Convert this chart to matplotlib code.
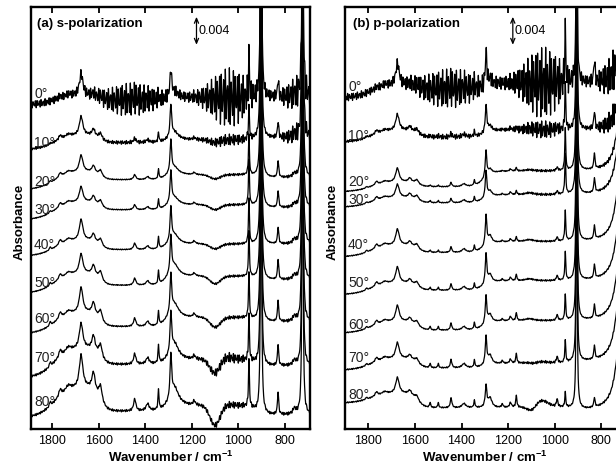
import numpy as np
import matplotlib
matplotlib.use('Agg')
import matplotlib.pyplot as plt

plt.rcParams['font.family'] = ['Liberation Sans', 'DejaVu Sans']
plt.rcParams['mathtext.fontset'] = 'custom'
plt.rcParams['mathtext.rm'] = 'Liberation Sans'
plt.rcParams['mathtext.bf'] = 'Liberation Sans:bold'

# ---------------- data (absorbance in units of 1e-3) ----------------
angles = [0, 10, 20, 30, 40, 50, 60, 70, 80]
angle_labels = [f"{a}°" for a in angles]
xticks = [1800, 1600, 1400, 1200, 1000, 800]

# ---- (a) s-polarization ----
s_offset = [46.3, 39.9, 34.2, 29.9, 24.7, 19.4, 13.6, 7.3, 1.6]
s_label_y = [47.8, 40.9, 35.3, 31.3, 26.3, 20.9, 15.7, 10.1, 3.9]
s_step_pos = [1790, 1600, 1310, 930]
s_step_wid = [35, 15, 15, 15]
s_levels = [[0, 1.4, 0.7, 1.0, 1.1],
            [0, 2.1, 1.0, 1.4, 1.7],
            [0, 2.6, 1.4, 2.1, 1.7],
            [0, 2.6, 1.4, 2.1, 1.7],
            [0, 2.3, 0.9, 1.7, 1.7],
            [0, 2.9, 1.1, 2.4, 1.9],
            [0, 3.1, 1.0, 2.3, 1.7],
            [0, 4.3, 1.9, 2.6, 1.7],
            [0, 4.4, 0.9, 1.7, 0.4]]
s_peak_pos = [1808, 1765, 1730, 1675, 1622, 1592, 1445, 1390, 1343, 1290, 1275, 1190,
              955, 903, 903, 830, 760, 725, 725]
s_peak_hw = [3, 7, 15, 9, 8, 9, 6, 8, 2.5, 4, 22, 6, 2.5, 1.1, 10, 3, 8, 1.1, 10]
s_peak_amp = [  # one row per peak, one column per angle
    [0, .15, .3, .3, .45, .45, .6, .7, .7],
    [.3, .6, .6, .6, .7, .7, .9, 1.0, 1.0],
    [.3, .4, .4, .4, .5, .5, .6, .7, .8],
    [3.1, 2.7, 2.4, 2.2, 3.0, 2.8, 3.6, 3.6, 4.7],
    [.4, 1.0, 1.0, 1.0, 1.1, 1.4, 1.7, 2.1, 2.6],
    [.3, .9, .9, .9, 1.0, 1.3, 1.5, 1.9, 2.3],
    [.4, .6, .7, .7, .9, 1.0, 1.2, 1.5, 1.7],
    [.2, .4, .4, .4, .5, .6, .7, .9, 1.0],
    [.7, 1.4, 1.4, 1.4, 1.7, 1.9, 2.0, 2.6, 2.9],
    [3.7, 4.6, 4.6, 4.5, 4.8, 5.2, 5.5, 5.8, 6.2],
    [.9, 1.1, 1.1, 1.1, 1.4, 1.7, 2.0, 2.3, 2.6],
    [.2, .3, .3, .3, .4, .4, .5, .5, .6],
    [6.1, 4.6, 5.7, 6.4, 6.4, 6.4, 6.4, 6.4, 6.6],
    [200] * 9,
    [1.5] * 9,
    [2.6, 2.4, 2.4, 2.4, 2.4, 2.9, 3.1, 3.1, 3.3],
    [.4, .5, .5, .5, .6, .6, .7, .7, .8],
    [200] * 9,
    [1.5] * 9,
]
s_band_pos = [1100, 1060]
s_band_sig = [22, 30]
s_band_amp = [[0, -.4, -.6, -.7, -.7, -1.1, -1.4, -2.1, -2.9],
              [0, 0, 0, 0, 0, 0, 0, .4, .2]]
s_fringe_floor = [0.5, 0.15, 0.06, 0.06, 0.06, 0.06, 0.08, 0.15, 0.15]
s_fringe_pos = [1460, 1040, 740]
s_fringe_sig = [90, 70, 50]
s_fringe_amp = [[1.7, 3.4, 1.7],
                [0.1, 0.6, 1.1],
                [0, 0.1, 0.2],
                [0, 0.1, 0.2],
                [0, 0.1, 0.2],
                [0, 0.1, 0.2],
                [0, 0.15, 0.2],
                [0, 0.5, 0.1],
                [0, 0.3, 0.1]]

# ---- (b) p-polarization ----
p_offset = [47.3, 41.0, 33.9, 31.7, 24.6, 19.2, 13.7, 8.4, 3.7]
p_label_y = [48.8, 41.8, 35.3, 32.7, 26.3, 20.9, 14.9, 10.2, 4.9]
p_step_pos = [1790, 1590, 1300, 930]
p_step_wid = [35, 15, 20, 15]
p_levels = [[0, 1.9, 1.3, 2.1, 2.1],
            [0, 1.7, 0.7, 1.7, 1.7],
            [0, 1.4, 0.7, 2.9, 2.9],
            [0, 1.4, 0.6, 1.7, 1.7],
            [0, 1.7, 0.6, 2.1, 2.1],
            [0, 1.7, 0.6, 1.9, 1.9],
            [0, 1.7, 0.4, 1.7, 1.7],
            [0, 1.7, 0.3, 0.9, 1.1],
            [0, 1.4, -0.7, -0.7, -1.1]]
p_peak_pos = [1808, 1765, 1730, 1675, 1622, 1592, 1535, 1500, 1445, 1390, 1345, 1295, 1278,
              1225, 1190, 1165, 1110, 990, 955, 906, 906, 830, 715]
p_peak_hw = [3, 7, 15, 9, 8, 9, 3, 3, 4, 10, 3, 4, 10, 4, 5, 3, 25, 4, 2.5, 0.9, 10, 3, 25]
p_peak_amp = [
    [0, .2, .2, .2, .3, .3, .3, .3, .3],
    [.3, .5, .5, .5, .6, .6, .6, .6, .6],
    [.3, .3, .3, .3, .4, .4, .4, .4, .4],
    [3.1, 2.3, 2.0, 1.9, 2.3, 2.3, 2.3, 2.3, 2.3],
    [.3, .6, .6, .6, .6, .6, .6, .6, .6],
    [.3, .6, .6, .6, .6, .6, .6, .6, .6],
    [0, .2, .2, .3, .3, .4, .5, .6, .7],
    [0, .2, .2, .3, .3, .4, .5, .6, .7],
    [.4, .5, .6, .6, .8, .9, 1.0, 1.2, 1.4],
    [.3, .4, .4, .4, .5, .5, .5, .6, .6],
    [.5, .7, .7, .7, .8, .8, .9, 1.0, 1.0],
    [4.6, 3.8, 3.8, 3.8, 4.3, 4.3, 4.0, 4.0, 3.0],
    [.8, .8, .8, .8, 1.2, 1.2, 1.2, 1.3, 1.4],
    [0, .1, .1, .2, .2, .3, .3, .4, .5],
    [.2, .3, .3, .4, .4, .5, .6, .6, .7],
    [.3, .4, .5, .6, .7, .9, 1.1, 1.4, 1.7],
    [0, .2, .2, .3, .3, .3, .3, .3, .3],
    [.3, .4, .5, .5, .6, .7, .8, .9, 1.1],
    [7.7, 6.4, 6.0, 5.7, 4.3, 4.0, 3.6, 3.1, 2.1],
    [200] * 9,
    [1.2] * 9,
    [3.3, 2.6, 2.3, 2.1, 2.0, 2.0, 2.0, 2.0, 1.4],
    [5, 6, 9, 10, 11, 11, 11, 12, 12],
]
p_band_pos = [1100, 1060]
p_band_sig = [20, 30]
p_band_amp = [[0, 0, 0, 0, 0, 0, 0, -.3, -1.0],
              [0, 0, 0, 0, 0, 0, 0, .2, 1.0]]
p_fringe_floor = [0.5, 0.15, 0.06, 0.06, 0.06, 0.06, 0.06, 0.08, 0.08]
p_fringe_pos = [1450, 1050, 720]
p_fringe_sig = [100, 70, 60]
p_fringe_amp = [[2.1, 4.2, 2.6],
                [0.2, 1.0, 1.6],
                [0, 0.1, 0.3],
                [0, 0.1, 0.2],
                [0, 0.05, 0.1],
                [0, 0.05, 0.1],
                [0, 0.05, 0.1],
                [0, 0.1, 0.1],
                [0, 0.1, 0.1]]

# ---------------- build spectra ----------------
wn = np.arange(1905.0, 680.0, -0.2)
carrier = 0.75 * np.sin(2 * np.pi * wn / 8.5) + 0.35 * np.sin(2 * np.pi * wn / 5.9 + 1.0)


def spectrum(i, P):
    y = np.full_like(wn, P['offset'][i])
    lv = P['levels'][i]
    for k, (c, w) in enumerate(zip(P['step_pos'], P['step_wid'])):
        y += (lv[k + 1] - lv[k]) / (1 + np.exp((wn - c) / w))
    for pos, hw, amp in zip(P['peak_pos'], P['peak_hw'], P['peak_amp']):
        y += amp[i] * hw ** 2 / ((wn - pos) ** 2 + hw ** 2)
    for pos, sg, amp in zip(P['band_pos'], P['band_sig'], P['band_amp']):
        y += amp[i] * np.exp(-0.5 * ((wn - pos) / sg) ** 2)
    env = np.full_like(wn, P['fringe_floor'][i])
    for pos, sg, a in zip(P['fringe_pos'], P['fringe_sig'], P['fringe_amp'][i]):
        env += a * np.exp(-0.5 * ((wn - pos) / sg) ** 2)
    y += env * carrier
    return y


panels = [
    dict(offset=s_offset, label_y=s_label_y, step_pos=s_step_pos, step_wid=s_step_wid,
         levels=s_levels, peak_pos=s_peak_pos, peak_hw=s_peak_hw, peak_amp=s_peak_amp,
         band_pos=s_band_pos, band_sig=s_band_sig, band_amp=s_band_amp,
         fringe_floor=s_fringe_floor, fringe_pos=s_fringe_pos, fringe_sig=s_fringe_sig,
         fringe_amp=s_fringe_amp, title='(a) s-polarization', xlim=(1890, 693),
         rect=[31 / 616, 46 / 475, 279 / 616, 422 / 475], ylab_x=20 / 616, title_x=0.022),
    dict(offset=p_offset, label_y=p_label_y, step_pos=p_step_pos, step_wid=p_step_wid,
         levels=p_levels, peak_pos=p_peak_pos, peak_hw=p_peak_hw, peak_amp=p_peak_amp,
         band_pos=p_band_pos, band_sig=p_band_sig, band_amp=p_band_amp,
         fringe_floor=p_fringe_floor, fringe_pos=p_fringe_pos, fringe_sig=p_fringe_sig,
         fringe_amp=p_fringe_amp, title='(b) p-polarization', xlim=(1900, 703),
         rect=[345 / 616, 46 / 475, 279 / 616, 422 / 475], ylab_x=333 / 616, title_x=0.029),
]

fig = plt.figure(figsize=(6.16, 4.75), dpi=100)
for P in panels:
    ax = fig.add_axes(P['rect'])
    for i in range(len(angles)):
        ax.plot(wn, spectrum(i, P), color='black', lw=0.9)
        ax.text(P['xlim'][0] - 13, P['label_y'][i], angle_labels[i], fontsize=10,
                color='#222222', ha='left', va='center')
    ax.set_xlim(*P['xlim'])
    ax.set_ylim(0, 60.3)
    ax.set_xticks(xticks)
    ax.set_yticks([])
    ax.tick_params(axis='x', direction='in', top=True, length=4, width=1.3,
                   labelsize=9, pad=4)
    for sp in ax.spines.values():
        sp.set_linewidth(1.7)
    ax.set_xlabel(r'Wavenumber / cm$^{\mathbf{-1}}$', fontweight='bold', fontsize=9.5,
                  labelpad=2)
    ax.text(P['title_x'], 0.974, P['title'], transform=ax.transAxes, fontweight='bold',
            fontsize=9.5, ha='left', va='top')
    ax.annotate('', xy=(1180, 54.9), xytext=(1180, 58.9),
                arrowprops=dict(arrowstyle='<->,head_length=0.35,head_width=0.15',
                                lw=0.9, color='black', shrinkA=0, shrinkB=0))
    ax.text(1172, 56.9, '0.004', fontsize=9, ha='left', va='center')
    fig.text(P['ylab_x'], 1 - 222 / 475, 'Absorbance', rotation=90, fontweight='bold',
             fontsize=9.5, ha='center', va='center')

fig.savefig('out.png', dpi=100)
